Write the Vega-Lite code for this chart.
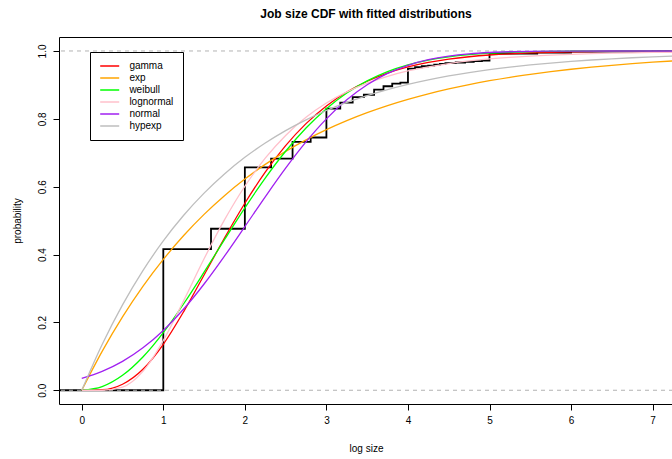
{
  "$schema": "https://vega.github.io/schema/vega-lite/v6.json",
  "width": 614,
  "height": 367,
  "autosize": {"type": "none"},
  "padding": {"left": 59, "top": 37, "right": 0, "bottom": 55},
  "background": "white",
  "title": {"text": "Job size CDF with fitted distributions", "font": "Liberation Sans", "fontSize": 12, "fontWeight": "bold", "anchor": "middle", "baseline": "alphabetic", "offset": 7, "color": "black"},
  "config": {
    "font": "Liberation Sans",
    "view": {"stroke": "black", "strokeWidth": 1},
    "axisX": {"domain": false, "grid": false, "tickColor": "black", "tickSize": 6, "labelPadding": 5, "labelFontSize": 10, "labelColor": "black", "labelFlush": false, "labelOverlap": false, "titleFontSize": 10, "titleFontWeight": "normal", "titleColor": "black", "titlePadding": 18},
    "axisY": {"domain": false, "grid": false, "tickColor": "black", "tickSize": 6, "labelAngle": -90, "labelAlign": "center", "labelBaseline": "bottom", "labelPadding": 6, "labelFontSize": 10, "labelColor": "black", "labelFlush": false, "labelOverlap": false, "titleFontSize": 10, "titleFontWeight": "normal", "titleColor": "black", "titlePadding": 15}
  },
  "datasets": {
    "ecdf": [
      {"x": -0.3, "p": 0}, {"x": 1, "p": 0.416}, {"x": 1.585, "p": 0.476}, {"x": 2, "p": 0.657},
      {"x": 2.322, "p": 0.683}, {"x": 2.585, "p": 0.732}, {"x": 2.807, "p": 0.745}, {"x": 3, "p": 0.83},
      {"x": 3.17, "p": 0.848}, {"x": 3.322, "p": 0.864}, {"x": 3.459, "p": 0.871}, {"x": 3.585, "p": 0.886},
      {"x": 3.7, "p": 0.896}, {"x": 3.807, "p": 0.904}, {"x": 3.907, "p": 0.907}, {"x": 4, "p": 0.948},
      {"x": 4.087, "p": 0.952}, {"x": 4.17, "p": 0.955}, {"x": 4.248, "p": 0.957}, {"x": 4.322, "p": 0.96},
      {"x": 4.392, "p": 0.962}, {"x": 4.459, "p": 0.964}, {"x": 4.585, "p": 0.966}, {"x": 4.7, "p": 0.968},
      {"x": 4.807, "p": 0.97}, {"x": 4.907, "p": 0.972}, {"x": 5, "p": 0.992}, {"x": 5.585, "p": 0.995},
      {"x": 6, "p": 0.998}, {"x": 7, "p": 1}, {"x": 7.4, "p": 1}
    ],
    "refs": [{"p": 0}, {"p": 1}],
    "fits": [
      {"dist": "gamma", "x": 0, "p": 0}, {"dist": "gamma", "x": 0.25, "p": 0.0016}, {"dist": "gamma", "x": 0.5, "p": 0.0178}, {"dist": "gamma", "x": 0.75, "p": 0.062}, {"dist": "gamma", "x": 1, "p": 0.1356}, {"dist": "gamma", "x": 1.25, "p": 0.232}, {"dist": "gamma", "x": 1.5, "p": 0.3397}, {"dist": "gamma", "x": 1.75, "p": 0.4485}, {"dist": "gamma", "x": 2, "p": 0.5512}, {"dist": "gamma", "x": 2.25, "p": 0.6427}, {"dist": "gamma", "x": 2.5, "p": 0.7209}, {"dist": "gamma", "x": 2.75, "p": 0.7858}, {"dist": "gamma", "x": 3, "p": 0.838}, {"dist": "gamma", "x": 3.25, "p": 0.8791}, {"dist": "gamma", "x": 3.5, "p": 0.9108}, {"dist": "gamma", "x": 3.75, "p": 0.9349}, {"dist": "gamma", "x": 4, "p": 0.953}, {"dist": "gamma", "x": 4.25, "p": 0.9663}, {"dist": "gamma", "x": 4.5, "p": 0.976}, {"dist": "gamma", "x": 4.75, "p": 0.983}, {"dist": "gamma", "x": 5, "p": 0.9881}, {"dist": "gamma", "x": 5.25, "p": 0.9917}, {"dist": "gamma", "x": 5.5, "p": 0.9942}, {"dist": "gamma", "x": 5.75, "p": 0.996}, {"dist": "gamma", "x": 6, "p": 0.9973}, {"dist": "gamma", "x": 6.5, "p": 0.9987}, {"dist": "gamma", "x": 7, "p": 0.9994}, {"dist": "gamma", "x": 7.4, "p": 0.9997},
      {"dist": "exp", "x": 0, "p": 0}, {"dist": "exp", "x": 0.25, "p": 0.1146}, {"dist": "exp", "x": 0.5, "p": 0.2161}, {"dist": "exp", "x": 0.75, "p": 0.306}, {"dist": "exp", "x": 1, "p": 0.3855}, {"dist": "exp", "x": 1.25, "p": 0.456}, {"dist": "exp", "x": 1.5, "p": 0.5183}, {"dist": "exp", "x": 1.75, "p": 0.5735}, {"dist": "exp", "x": 2, "p": 0.6224}, {"dist": "exp", "x": 2.25, "p": 0.6657}, {"dist": "exp", "x": 2.5, "p": 0.704}, {"dist": "exp", "x": 2.75, "p": 0.7379}, {"dist": "exp", "x": 3, "p": 0.768}, {"dist": "exp", "x": 3.25, "p": 0.7946}, {"dist": "exp", "x": 3.5, "p": 0.8181}, {"dist": "exp", "x": 3.75, "p": 0.839}, {"dist": "exp", "x": 4, "p": 0.8574}, {"dist": "exp", "x": 4.25, "p": 0.8738}, {"dist": "exp", "x": 4.5, "p": 0.8883}, {"dist": "exp", "x": 4.75, "p": 0.9011}, {"dist": "exp", "x": 5, "p": 0.9124}, {"dist": "exp", "x": 5.25, "p": 0.9225}, {"dist": "exp", "x": 5.5, "p": 0.9313}, {"dist": "exp", "x": 5.75, "p": 0.9392}, {"dist": "exp", "x": 6, "p": 0.9462}, {"dist": "exp", "x": 6.25, "p": 0.9523}, {"dist": "exp", "x": 6.5, "p": 0.9578}, {"dist": "exp", "x": 6.75, "p": 0.9626}, {"dist": "exp", "x": 7, "p": 0.9669}, {"dist": "exp", "x": 7.4, "p": 0.9728},
      {"dist": "weibull", "x": 0, "p": 0}, {"dist": "weibull", "x": 0.25, "p": 0.0108}, {"dist": "weibull", "x": 0.5, "p": 0.044}, {"dist": "weibull", "x": 0.75, "p": 0.0981}, {"dist": "weibull", "x": 1, "p": 0.1699}, {"dist": "weibull", "x": 1.25, "p": 0.255}, {"dist": "weibull", "x": 1.5, "p": 0.348}, {"dist": "weibull", "x": 1.75, "p": 0.4438}, {"dist": "weibull", "x": 2, "p": 0.5376}, {"dist": "weibull", "x": 2.25, "p": 0.6254}, {"dist": "weibull", "x": 2.5, "p": 0.7044}, {"dist": "weibull", "x": 2.75, "p": 0.7728}, {"dist": "weibull", "x": 3, "p": 0.8298}, {"dist": "weibull", "x": 3.25, "p": 0.876}, {"dist": "weibull", "x": 3.5, "p": 0.9119}, {"dist": "weibull", "x": 3.75, "p": 0.9391}, {"dist": "weibull", "x": 4, "p": 0.959}, {"dist": "weibull", "x": 4.25, "p": 0.9731}, {"dist": "weibull", "x": 4.5, "p": 0.9829}, {"dist": "weibull", "x": 4.75, "p": 0.9894}, {"dist": "weibull", "x": 5, "p": 0.9936}, {"dist": "weibull", "x": 5.25, "p": 0.9962}, {"dist": "weibull", "x": 5.5, "p": 0.9978}, {"dist": "weibull", "x": 5.75, "p": 0.9988}, {"dist": "weibull", "x": 6, "p": 0.9993}, {"dist": "weibull", "x": 6.5, "p": 0.9998}, {"dist": "weibull", "x": 7, "p": 1}, {"dist": "weibull", "x": 7.4, "p": 1},
      {"dist": "lognormal", "x": 0, "p": 0}, {"dist": "lognormal", "x": 0.25, "p": 0.0001}, {"dist": "lognormal", "x": 0.5, "p": 0.0092}, {"dist": "lognormal", "x": 0.75, "p": 0.0555}, {"dist": "lognormal", "x": 1, "p": 0.1466}, {"dist": "lognormal", "x": 1.25, "p": 0.2643}, {"dist": "lognormal", "x": 1.5, "p": 0.3875}, {"dist": "lognormal", "x": 1.75, "p": 0.502}, {"dist": "lognormal", "x": 2, "p": 0.6013}, {"dist": "lognormal", "x": 2.25, "p": 0.684}, {"dist": "lognormal", "x": 2.5, "p": 0.7511}, {"dist": "lognormal", "x": 2.75, "p": 0.8045}, {"dist": "lognormal", "x": 3, "p": 0.8466}, {"dist": "lognormal", "x": 3.25, "p": 0.8796}, {"dist": "lognormal", "x": 3.5, "p": 0.9054}, {"dist": "lognormal", "x": 3.75, "p": 0.9255}, {"dist": "lognormal", "x": 4, "p": 0.9412}, {"dist": "lognormal", "x": 4.25, "p": 0.9534}, {"dist": "lognormal", "x": 4.5, "p": 0.963}, {"dist": "lognormal", "x": 4.75, "p": 0.9706}, {"dist": "lognormal", "x": 5, "p": 0.9765}, {"dist": "lognormal", "x": 5.25, "p": 0.9811}, {"dist": "lognormal", "x": 5.5, "p": 0.9848}, {"dist": "lognormal", "x": 5.75, "p": 0.9877}, {"dist": "lognormal", "x": 6, "p": 0.9901}, {"dist": "lognormal", "x": 6.25, "p": 0.992}, {"dist": "lognormal", "x": 6.5, "p": 0.9934}, {"dist": "lognormal", "x": 6.75, "p": 0.9946}, {"dist": "lognormal", "x": 7, "p": 0.9956}, {"dist": "lognormal", "x": 7.4, "p": 0.9967},
      {"dist": "normal", "x": 0, "p": 0.0348}, {"dist": "normal", "x": 0.25, "p": 0.0556}, {"dist": "normal", "x": 0.5, "p": 0.085}, {"dist": "normal", "x": 0.75, "p": 0.1251}, {"dist": "normal", "x": 1, "p": 0.1764}, {"dist": "normal", "x": 1.25, "p": 0.2395}, {"dist": "normal", "x": 1.5, "p": 0.3132}, {"dist": "normal", "x": 1.75, "p": 0.3955}, {"dist": "normal", "x": 2, "p": 0.4824}, {"dist": "normal", "x": 2.25, "p": 0.5702}, {"dist": "normal", "x": 2.5, "p": 0.6547}, {"dist": "normal", "x": 2.75, "p": 0.7321}, {"dist": "normal", "x": 3, "p": 0.7998}, {"dist": "normal", "x": 3.25, "p": 0.8559}, {"dist": "normal", "x": 3.5, "p": 0.9003}, {"dist": "normal", "x": 3.75, "p": 0.9338}, {"dist": "normal", "x": 4, "p": 0.9578}, {"dist": "normal", "x": 4.25, "p": 0.9742}, {"dist": "normal", "x": 4.5, "p": 0.9849}, {"dist": "normal", "x": 4.75, "p": 0.9916}, {"dist": "normal", "x": 5, "p": 0.9955}, {"dist": "normal", "x": 5.25, "p": 0.9977}, {"dist": "normal", "x": 5.5, "p": 0.9989}, {"dist": "normal", "x": 5.75, "p": 0.9995}, {"dist": "normal", "x": 6, "p": 0.9997}, {"dist": "normal", "x": 6.5, "p": 0.9999}, {"dist": "normal", "x": 7, "p": 1}, {"dist": "normal", "x": 7.4, "p": 1},
      {"dist": "hypexp", "x": 0, "p": 0}, {"dist": "hypexp", "x": 0.25, "p": 0.135}, {"dist": "hypexp", "x": 0.5, "p": 0.2517}, {"dist": "hypexp", "x": 0.75, "p": 0.3527}, {"dist": "hypexp", "x": 1, "p": 0.4401}, {"dist": "hypexp", "x": 1.25, "p": 0.5157}, {"dist": "hypexp", "x": 1.5, "p": 0.581}, {"dist": "hypexp", "x": 1.75, "p": 0.6376}, {"dist": "hypexp", "x": 2, "p": 0.6865}, {"dist": "hypexp", "x": 2.25, "p": 0.7288}, {"dist": "hypexp", "x": 2.5, "p": 0.7654}, {"dist": "hypexp", "x": 2.75, "p": 0.7971}, {"dist": "hypexp", "x": 3, "p": 0.8245}, {"dist": "hypexp", "x": 3.25, "p": 0.8482}, {"dist": "hypexp", "x": 3.5, "p": 0.8687}, {"dist": "hypexp", "x": 3.75, "p": 0.8864}, {"dist": "hypexp", "x": 4, "p": 0.9017}, {"dist": "hypexp", "x": 4.25, "p": 0.915}, {"dist": "hypexp", "x": 4.5, "p": 0.9265}, {"dist": "hypexp", "x": 4.75, "p": 0.9364}, {"dist": "hypexp", "x": 5, "p": 0.945}, {"dist": "hypexp", "x": 5.25, "p": 0.9524}, {"dist": "hypexp", "x": 5.5, "p": 0.9588}, {"dist": "hypexp", "x": 5.75, "p": 0.9644}, {"dist": "hypexp", "x": 6, "p": 0.9692}, {"dist": "hypexp", "x": 6.25, "p": 0.9734}, {"dist": "hypexp", "x": 6.5, "p": 0.977}, {"dist": "hypexp", "x": 6.75, "p": 0.9801}, {"dist": "hypexp", "x": 7, "p": 0.9828}, {"dist": "hypexp", "x": 7.4, "p": 0.9862}
    ]
  },
  "layer": [
    {
      "data": {"name": "ecdf"},
      "mark": {"type": "line", "interpolate": "step-after", "color": "black", "strokeWidth": 1.8, "clip": true},
      "encoding": {
        "x": {"field": "x", "type": "quantitative", "title": "log size", "scale": {"domain": [-0.279, 7.25], "nice": false, "zero": false}, "axis": {"values": [0, 1, 2, 3, 4, 5, 6, 7], "format": "d"}},
        "y": {"field": "p", "type": "quantitative", "title": "probability", "scale": {"domain": [-0.0405, 1.0412], "nice": false, "zero": false}, "axis": {"values": [0, 0.2, 0.4, 0.6, 0.8, 1], "format": ".1f"}}
      }
    },
    {
      "data": {"name": "refs"},
      "mark": {"type": "rule", "color": "#B3B3B3", "strokeDash": [4, 4], "strokeWidth": 1},
      "encoding": {
        "y": {"field": "p", "type": "quantitative", "title": "probability", "scale": {"domain": [-0.0405, 1.0412], "nice": false, "zero": false}, "axis": {"values": [0, 0.2, 0.4, 0.6, 0.8, 1], "format": ".1f"}}
      }
    },
    {
      "data": {"name": "fits"},
      "mark": {"type": "line", "interpolate": "monotone", "strokeWidth": 1.3, "clip": true},
      "encoding": {
        "x": {"field": "x", "type": "quantitative", "title": "log size", "scale": {"domain": [-0.279, 7.25], "nice": false, "zero": false}, "axis": {"values": [0, 1, 2, 3, 4, 5, 6, 7], "format": "d"}},
        "y": {"field": "p", "type": "quantitative", "title": "probability", "scale": {"domain": [-0.0405, 1.0412], "nice": false, "zero": false}, "axis": {"values": [0, 0.2, 0.4, 0.6, 0.8, 1], "format": ".1f"}},
        "color": {"field": "dist", "type": "nominal",
          "scale": {"domain": ["gamma", "exp", "weibull", "lognormal", "normal", "hypexp"], "range": ["#FF0000", "#FFA500", "#00FF00", "#FFC0CB", "#A020F0", "#BEBEBE"]},
          "legend": {"orient": "none", "legendX": 31, "legendY": 15, "title": null, "strokeColor": "black", "fillColor": "white", "padding": 9, "symbolType": "M-1,0H4", "symbolSize": 57.8, "symbolStrokeWidth": 1.5, "symbolFillColor": "transparent", "labelFontSize": 10, "labelColor": "black", "labelOffset": 20.4, "rowPadding": 2, "cornerRadius": 0}}
      }
    }
  ]
}
